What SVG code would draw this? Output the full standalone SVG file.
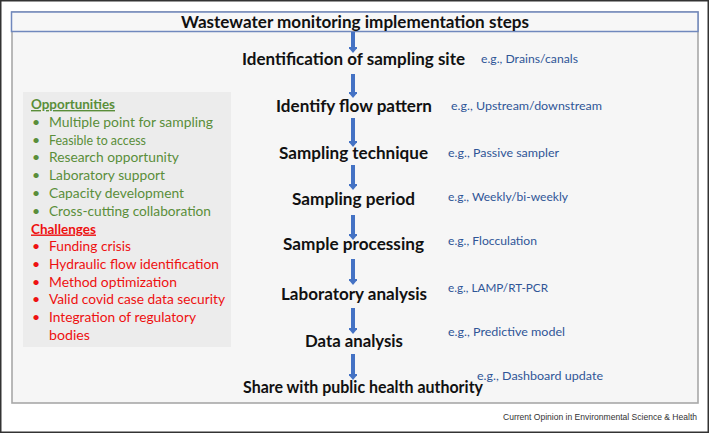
<svg xmlns="http://www.w3.org/2000/svg" width="709" height="433" viewBox="0 0 709 433">
<defs>
<marker id="ah" markerUnits="userSpaceOnUse" markerWidth="12" markerHeight="8" refX="0" refY="4" orient="auto" viewBox="0 0 6 8">
<path d="M0,-1 L6,4 L0,9 Z" fill="#4472c4"/>
</marker>
</defs>
<style>
.step{font-family:Lato,"Liberation Sans",sans-serif;font-weight:700;font-size:17px;fill:#111;text-anchor:middle}
.eg{font-family:Lato,"Liberation Sans",sans-serif;font-size:11.5px;fill:#2f5597}
.op{font-family:Lato,"Liberation Sans",sans-serif;font-size:14px;fill:#5a8e3a}
.ch{font-family:Lato,"Liberation Sans",sans-serif;font-size:14px;fill:#ee1111}
.hd{font-weight:700;text-decoration:underline}
.arr{stroke:#4472c4;stroke-width:4;fill:none;marker-end:url(#ah)}
</style>
<rect x="0.75" y="0.75" width="707.5" height="431.5" fill="#ffffff" stroke="#333333" stroke-width="1.5"/>
<rect x="12" y="12" width="686" height="391" fill="#f6f6f6" stroke="#a8a8a8" stroke-width="1.6"/>
<g id="title">
<rect x="11.5" y="12" width="686.5" height="19.5" fill="#f7f7f7" stroke="#7088bd" stroke-width="1.5"/>
<text x="355" y="27.5" class="step" font-size="16.5" textLength="348" lengthAdjust="spacingAndGlyphs">Wastewater monitoring implementation steps</text>
</g>
<g id="panel">
<rect x="23" y="92" width="208" height="255" fill="#ececec"/>
<text x="31" y="109" class="op hd" textLength="84" lengthAdjust="spacingAndGlyphs">Opportunities</text>
<g class="op">
<text x="32" y="127">•</text><text x="49" y="127" textLength="164" lengthAdjust="spacingAndGlyphs">Multiple point for sampling</text>
<text x="32" y="144.7">•</text><text x="49" y="144.7" textLength="97" lengthAdjust="spacingAndGlyphs">Feasible to access</text>
<text x="32" y="162.4">•</text><text x="49" y="162.4" textLength="130" lengthAdjust="spacingAndGlyphs">Research opportunity</text>
<text x="32" y="180.1">•</text><text x="49" y="180.1" textLength="116" lengthAdjust="spacingAndGlyphs">Laboratory support</text>
<text x="32" y="197.8">•</text><text x="49" y="197.8" textLength="135" lengthAdjust="spacingAndGlyphs">Capacity development</text>
<text x="32" y="215.5">•</text><text x="49" y="215.5" textLength="162" lengthAdjust="spacingAndGlyphs">Cross-cutting collaboration</text>
</g>
<text x="31" y="233.5" class="ch hd" textLength="65" lengthAdjust="spacingAndGlyphs">Challenges</text>
<g class="ch">
<text x="32" y="251.2">•</text><text x="49" y="251.2" textLength="82" lengthAdjust="spacingAndGlyphs">Funding crisis</text>
<text x="32" y="268.9">•</text><text x="49" y="268.9" textLength="170" lengthAdjust="spacingAndGlyphs">Hydraulic flow identification</text>
<text x="32" y="286.6">•</text><text x="49" y="286.6" textLength="128" lengthAdjust="spacingAndGlyphs">Method optimization</text>
<text x="32" y="304.3">•</text><text x="49" y="304.3" textLength="176" lengthAdjust="spacingAndGlyphs">Valid covid case data security</text>
<text x="32" y="322">•</text><text x="49" y="322" textLength="147" lengthAdjust="spacingAndGlyphs">Integration of regulatory</text>
<text x="49" y="339.7" textLength="41" lengthAdjust="spacingAndGlyphs">bodies</text>
</g>
</g>
<g id="connectors">
<line x1="353" y1="32" x2="353" y2="47" class="arr"/>
<line x1="353" y1="74" x2="353" y2="92" class="arr"/>
<line x1="353" y1="118" x2="353" y2="141" class="arr"/>
<line x1="353" y1="165" x2="353" y2="184" class="arr"/>
<line x1="353" y1="215" x2="353" y2="234" class="arr"/>
<line x1="353" y1="259" x2="353" y2="279" class="arr"/>
<line x1="353" y1="308" x2="353" y2="328" class="arr"/>
<line x1="353" y1="354" x2="353" y2="374" class="arr"/>
</g>
<g id="step1">
<text x="353.5" y="65" class="step" textLength="223" lengthAdjust="spacingAndGlyphs">Identification of sampling site</text>
<text x="481" y="63" class="eg" textLength="97" lengthAdjust="spacingAndGlyphs">e.g., Drains/canals</text>
</g>
<g id="step2">
<text x="354" y="112" class="step" textLength="156" lengthAdjust="spacingAndGlyphs">Identify flow pattern</text>
<text x="451" y="110" class="eg" textLength="151" lengthAdjust="spacingAndGlyphs">e.g., Upstream/downstream</text>
</g>
<g id="step3">
<text x="353.5" y="159" class="step" textLength="149" lengthAdjust="spacingAndGlyphs">Sampling technique</text>
<text x="448" y="157" class="eg" textLength="111" lengthAdjust="spacingAndGlyphs">e.g., Passive sampler</text>
</g>
<g id="step4">
<text x="353.5" y="205" class="step" textLength="123" lengthAdjust="spacingAndGlyphs">Sampling period</text>
<text x="448" y="201" class="eg" textLength="120" lengthAdjust="spacingAndGlyphs">e.g., Weekly/bi-weekly</text>
</g>
<g id="step5">
<text x="353.5" y="250" class="step" textLength="141" lengthAdjust="spacingAndGlyphs">Sample processing</text>
<text x="448" y="245" class="eg" textLength="89" lengthAdjust="spacingAndGlyphs">e.g., Flocculation</text>
</g>
<g id="step6">
<text x="354" y="300" class="step" textLength="146" lengthAdjust="spacingAndGlyphs">Laboratory analysis</text>
<text x="448" y="292" class="eg" textLength="100" lengthAdjust="spacingAndGlyphs">e.g., LAMP/RT-PCR</text>
</g>
<g id="step7">
<text x="354" y="347" class="step" textLength="98" lengthAdjust="spacingAndGlyphs">Data analysis</text>
<text x="448" y="336" class="eg" textLength="117" lengthAdjust="spacingAndGlyphs">e.g., Predictive model</text>
</g>
<g id="step8">
<text x="363" y="393" class="step" textLength="240" lengthAdjust="spacingAndGlyphs">Share with public health authority</text>
<text x="477" y="380" class="eg" textLength="126" lengthAdjust="spacingAndGlyphs">e.g., Dashboard update</text>
</g>
<text x="697" y="420" text-anchor="end" font-family="'Liberation Sans',Arial,sans-serif" font-size="9" fill="#333333" textLength="194" lengthAdjust="spacingAndGlyphs">Current Opinion in Environmental Science &amp; Health</text>
</svg>
